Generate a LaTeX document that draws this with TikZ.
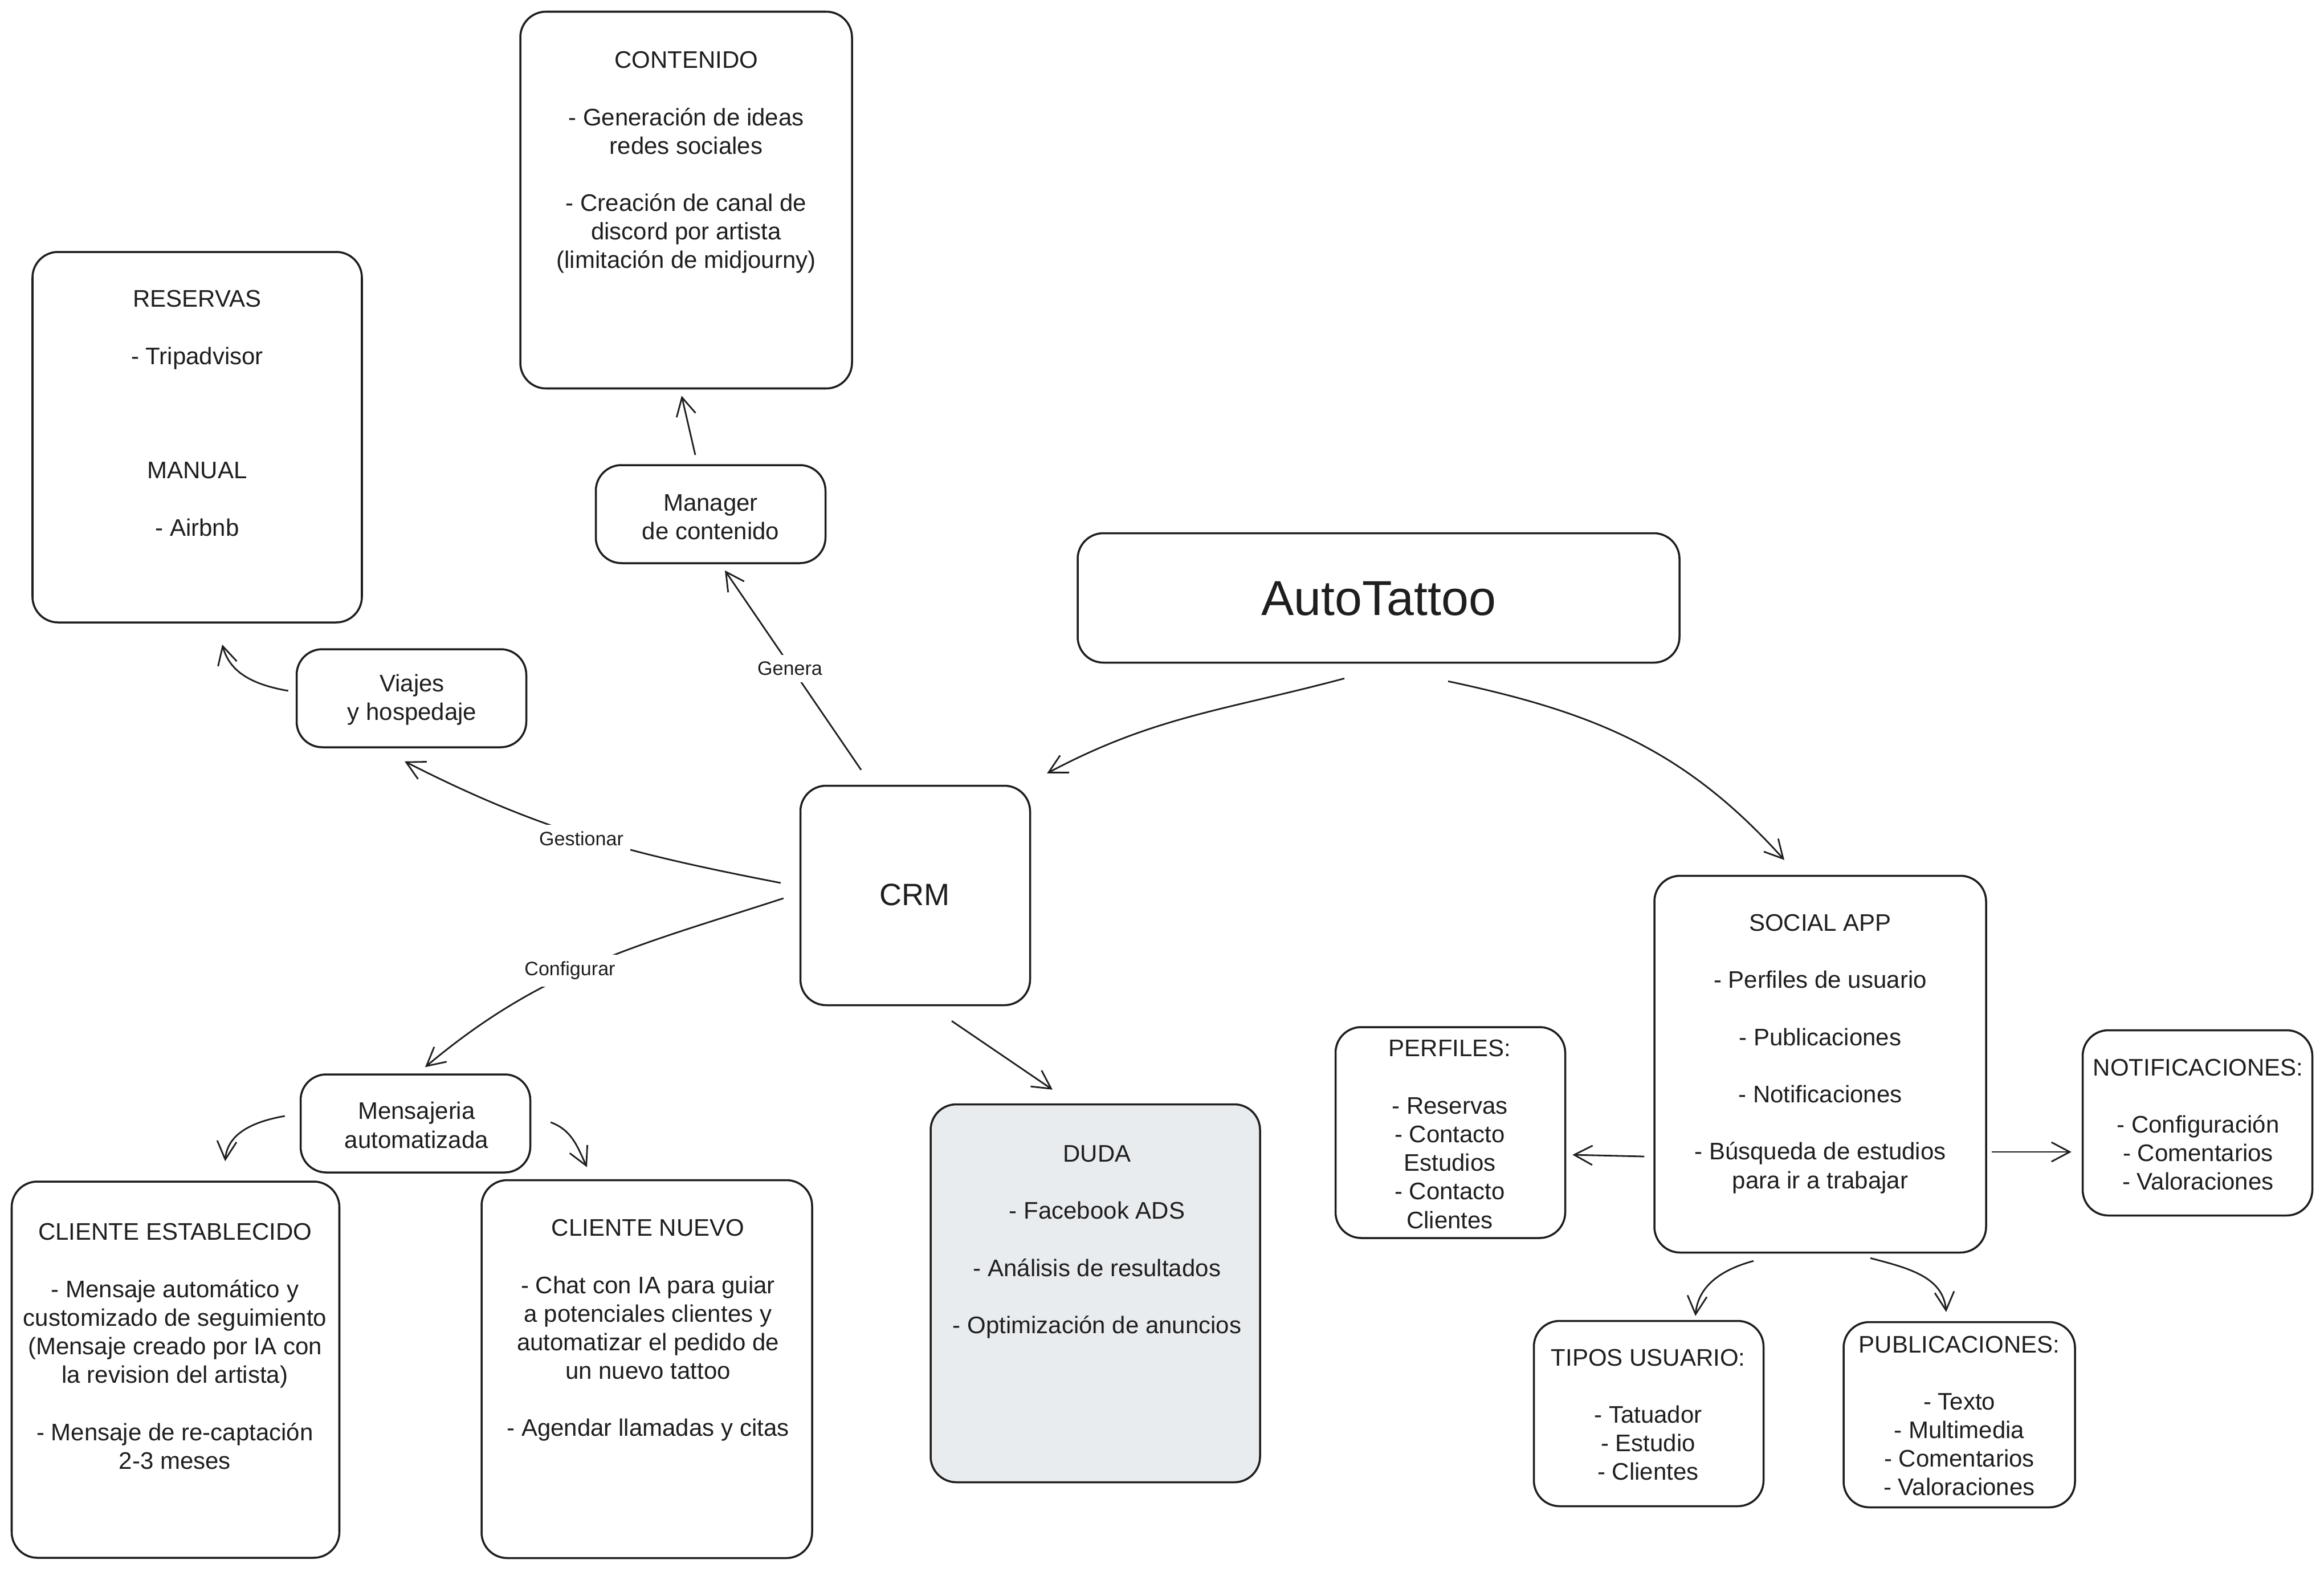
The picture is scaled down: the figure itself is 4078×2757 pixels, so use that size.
\documentclass[tikz,border=0pt]{standalone}
\usepackage{fontspec}
\setmainfont{Liberation Sans}
\usetikzlibrary{arrows.meta,calc}
\definecolor{ink}{HTML}{1E1E1E}
\definecolor{dudafill}{HTML}{E9ECEF}
\newcommand\fsn{\fontsize{11.95pt}{14.28pt}\selectfont}
\newcommand\fslbl{\fontsize{9.7pt}{11.6pt}\selectfont}
\newcommand\fscrm{\fontsize{15.4pt}{18pt}\selectfont}
\newcommand\fsbig{\fontsize{24.5pt}{29pt}\selectfont}
\tikzset{
  box/.style={draw=ink, line width=1pt, rounded corners=4.5mm, fill=white, inner sep=0pt},
  txt/.style={align=center, font=\fsn, text=ink, inner sep=0pt},
  lbl/.style={font=\fslbl, text=ink, fill=white, inner sep=1.2mm},
  arr/.style={draw=ink, line width=0.8pt, -{Straight Barb[length=3.2mm,width=3.4mm]}},
}
\begin{document}
\begin{tikzpicture}[x=0.1mm, y=-0.1mm]
\fill[white] (0,0) rectangle (4078,2757);
\useasboundingbox (0,0) rectangle (4078,2757);

% boxes
\node[box, minimum width=58.2mm, minimum height=66.1mm] (contenido) at (1204,351) {};
\node[box, minimum width=57.8mm, minimum height=65.0mm] (reservas) at (346,767) {};
\node[box, minimum width=40.3mm, minimum height=17.2mm] (manager) at (1247,902) {};
\node[box, minimum width=105.6mm, minimum height=22.7mm] (auto) at (2419,1049) {};
\node[box, minimum width=40.3mm, minimum height=17.2mm] (viajes) at (722,1225) {};
\node[box, minimum width=40.3mm, minimum height=38.5mm] (crm) at (1606,1571) {};
\node[box, minimum width=40.3mm, minimum height=17.2mm] (mensajeria) at (729,1971) {};
\node[box, minimum width=57.5mm, minimum height=66.0mm] (clienteE) at (308,2403) {};
\node[box, minimum width=58.0mm, minimum height=66.3mm] (clienteN) at (1135,2402) {};
\node[box, fill=dudafill, minimum width=57.8mm, minimum height=66.3mm] (duda) at (1922,2269) {};
\node[box, minimum width=58.2mm, minimum height=66.1mm] (social) at (3194,1867) {};
\node[box, minimum width=40.3mm, minimum height=37.0mm] (perfiles) at (2545,1987) {};
\node[box, minimum width=40.3mm, minimum height=32.5mm] (notif) at (3856,1970) {};
\node[box, minimum width=40.3mm, minimum height=32.5mm] (tipos) at (2893,2480) {};
\node[box, minimum width=40.6mm, minimum height=32.5mm] (public) at (3438,2482) {};

% connectors
\draw[arr] ($(auto.south)+(-60,26)$) to[out=195,in=28] ($(crm.north east)+(28,-20)$);
\draw[arr] ($(auto.south)+(122,31)$) to[out=-12,in=132] ($(social.north)+(-63,-26)$);
\draw[arr] ($(crm.north)+(-95,-26)$) -- ($(manager.south)+(25,11)$);
\draw[arr] ($(manager.north)+(-27,-16)$) -- ($(contenido.south)+(-8,11)$);
\draw[arr] ($(crm.west)+(-33,-22)$) to[out=169,in=-27] ($(viajes.south)+(-12,23)$);
\draw[arr] ($(viajes.west)+(-13,-13)$) to[out=170,in=-75] ($(reservas.south)+(44,37)$);
\draw[arr] ($(crm.west)+(-28,5)$) to[out=198,in=40] ($(mensajeria.north)+(17,-11)$);
\draw[arr] ($(crm.south)+(64,26)$) -- ($(duda.north)+(-75,-24)$);
\draw[arr] ($(mensajeria.west)+(-26,-13)$) to[out=190,in=85] ($(clienteE.north)+(87,-34)$);
\draw[arr] ($(mensajeria.east)+(34,-2)$) to[out=-20,in=115] ($(clienteN.north)+(-105,-21)$);
\draw[arr] ($(social.west)+(-16,162)$) -- ($(perfiles.east)+(11,39)$);
\draw[arr] ($(social.east)+(8,154)$) -- ($(notif.west)+(-18,51)$);
\draw[arr] ($(social.south)+(-117,13)$) to[out=195,in=85] ($(tipos.north)+(82,-7)$);
\draw[arr] ($(social.south)+(88,8)$) to[out=-15,in=95] ($(public.north)+(-23,-16)$);

% connector labels
\node[lbl] (lgen) at (1386,1173) {Genera};
\node[lbl] (lges) at (1020,1471) {Gestionar};
\node[lbl] (lcon) at (1000,1703) {Configurar};

% texts
\node[txt] (contenidoT) at (1204,285) {CONTENIDO\\\mbox{}\\- Generación de ideas\\redes sociales\\\mbox{}\\- Creación de canal de\\discord por artista\\(limitación de midjourny)};
\node[txt] (reservasT) at (346,725) {RESERVAS\\\mbox{}\\- Tripadvisor\\\mbox{}\\\mbox{}\\\mbox{}\\MANUAL\\\mbox{}\\- Airbnb};
\node[txt] (managerT) at (1247,907) {Manager\\de contenido};
\node[txt, font=\fsbig] (autoT) at (2419,1050) {AutoTattoo};
\node[txt] (viajesT) at (723,1228) {Viajes\\y hospedaje};
\node[txt, font=\fscrm] (crmT) at (1605,1570) {CRM};
\node[txt] (mensajeriaT) at (731,1974) {Mensajeria\\automatizada};
\node[txt] (clienteET) at (307,2362) {CLIENTE ESTABLECIDO\\\mbox{}\\- Mensaje automático y\\customizado de seguimiento\\(Mensaje creado por IA con\\la revision del artista)\\\mbox{}\\- Mensaje de re-captación\\2-3 meses};
\node[txt] (clienteNT) at (1137,2334) {CLIENTE NUEVO\\\mbox{}\\- Chat con IA para guiar\\a potenciales clientes y\\automatizar el pedido de\\un nuevo tattoo\\\mbox{}\\- Agendar llamadas y citas};
\node[txt] (dudaT) at (1925,2179) {DUDA\\\mbox{}\\- Facebook ADS\\\mbox{}\\- Análisis de resultados\\\mbox{}\\- Optimización de anuncios};
\node[txt] (socialT) at (3194,1849) {SOCIAL APP\\\mbox{}\\- Perfiles de usuario\\\mbox{}\\- Publicaciones\\\mbox{}\\- Notificaciones\\\mbox{}\\- Búsqueda de estudios\\para ir a trabajar};
\node[txt] (perfilesT) at (2544,1990) {PERFILES:\\\mbox{}\\- Reservas\\- Contacto\\Estudios\\- Contacto\\Clientes};
\node[txt] (notifT) at (3857,1973) {NOTIFICACIONES:\\\mbox{}\\- Configuración\\- Comentarios\\- Valoraciones};
\node[txt] (tiposT) at (2892,2482) {TIPOS USUARIO:\\\mbox{}\\- Tatuador\\- Estudio\\- Clientes};
\node[txt] (publicT) at (3438,2484) {PUBLICACIONES:\\\mbox{}\\- Texto\\- Multimedia\\- Comentarios\\- Valoraciones};
\end{tikzpicture}
\end{document}
